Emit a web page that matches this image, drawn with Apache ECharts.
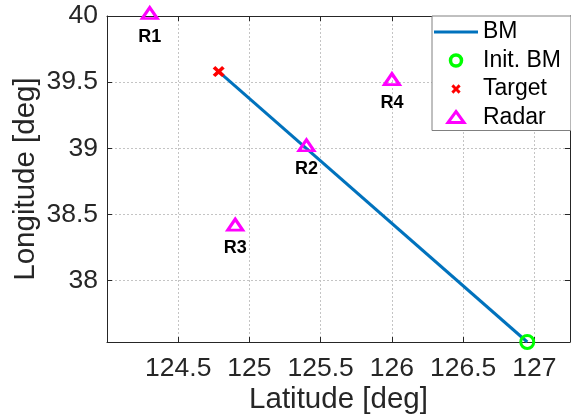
<!DOCTYPE html>
<html>
<head>
<meta charset="utf-8">
<script src="https://cdn.jsdelivr.net/npm/echarts@6/dist/echarts.min.js"></script>
<style>html,body{margin:0;padding:0;background:#fff}#c{width:571px;height:418px}</style>
</head>
<body>
<div id="c"></div>
<script>
const latTicks = [124.5, 125, 125.5, 126, 126.5, 127];
const lonTicks = [38, 38.5, 39, 39.5, 40];
const bmLat = [124.784, 126.95];
const bmLon = [39.58, 37.535];
const initLat = [126.95];
const initLon = [37.535];
const targetLat = [124.784];
const targetLon = [39.58];
const radarNames = ['R1', 'R2', 'R3', 'R4'];
const radarLat = [124.3, 125.4, 124.9, 126.0];
const radarLon = [40.0, 39.0, 38.4, 39.5];
const seriesNames = ['BM', 'Init. BM', 'Target', 'Radar'];

const FONT = "'Liberation Sans', Arial, Helvetica, sans-serif";
const AX = '#262626';
const xPath = 'path://M-1.6,-0.9L-0.9,-1.6L0,-0.7L0.9,-1.6L1.6,-0.9L0.7,0L1.6,0.9L0.9,1.6L0,0.7L-0.9,1.6L-1.6,0.9L-0.7,0Z';
const xPathLegend = 'path://M-3.1,-3.1M3.1,3.1M-1.6,-0.9L-0.9,-1.6L0,-0.7L0.9,-1.6L1.6,-0.9L0.7,0L1.6,0.9L0.9,1.6L0,0.7L-0.9,1.6L-1.6,0.9L-0.7,0Z';
const circLegend = 'path://M-9,-9M9,9M-5.5,0A5.5,5.5 0 1 0 5.5,0A5.5,5.5 0 1 0 -5.5,0Z';
const triLegend = 'path://M-9,-9M9,9M0,-6L8,5L-8,5Z';
const lineLegend = 'path://M-22,-9M22,9M-22,-1.5L22,-1.5L22,1.5L-22,1.5Z';

const zip = (a, b) => a.map((v, i) => [v, b[i]]);

function xAxisCfg(pos, labels) {
  return {
    type: 'value', position: pos, min: 124, max: 127.25,
    axisLine: { show: true, onZero: false, lineStyle: { color: AX, width: 1 } },
    axisTick: { show: true, inside: true, length: 5, customValues: latTicks, lineStyle: { color: AX } },
    axisLabel: { show: labels, customValues: latTicks, fontSize: 26.5, fontFamily: FONT, color: AX, margin: 13 },
    splitLine: { show: labels, lineStyle: { color: '#c4c4c4', type: [2, 2], width: 1 } },
    name: labels ? 'Latitude [deg]' : '', nameLocation: 'middle', nameGap: 43, nameMoveOverlap: false,
    nameTextStyle: { fontSize: 29.5, fontFamily: FONT, color: AX }
  };
}
function yAxisCfg(pos, labels) {
  return {
    type: 'value', position: pos, min: 37.535, max: 40,
    axisLine: { show: true, onZero: false, lineStyle: { color: AX, width: 1 } },
    axisTick: { show: true, inside: true, length: 5, customValues: lonTicks, lineStyle: { color: AX } },
    axisLabel: { show: labels, customValues: lonTicks, fontSize: 26.5, fontFamily: FONT, color: AX, margin: 9 },
    splitLine: { show: labels, lineStyle: { color: '#c4c4c4', type: [2, 2], width: 1 } },
    name: labels ? 'Longitude [deg]' : '', nameLocation: 'middle', nameGap: 66, nameRotate: 90, nameMoveOverlap: false,
    nameTextStyle: { fontSize: 29.5, fontFamily: FONT, color: AX }
  };
}

const chart = echarts.init(document.getElementById('c'), null, { renderer: 'canvas' });
chart.setOption({
  animation: false,
  backgroundColor: '#fff',
  grid: { left: 107, right: 1, top: 16, bottom: 76, containLabel: false, outerBoundsMode: 'none' },
  xAxis: [xAxisCfg('bottom', true), xAxisCfg('top', false)],
  yAxis: [yAxisCfg('left', true), yAxisCfg('right', false)],
  legend: {
    orient: 'vertical', left: 432, top: 16,
    padding: [4, 10, 1, 2], itemGap: 4.5, itemWidth: 44, itemHeight: 18,
    backgroundColor: '#fff', borderColor: '#808080', borderWidth: 1, borderRadius: 0,
    textStyle: { fontSize: 23, fontFamily: FONT, color: '#000', lineHeight: 24 },
    data: [
      { name: seriesNames[0], icon: lineLegend, itemStyle: { color: '#0072BD', borderWidth: 0 } },
      { name: seriesNames[1], icon: circLegend, itemStyle: { color: 'rgba(0,0,0,0)', borderColor: '#00ff00', borderWidth: 3.5 } },
      { name: seriesNames[2], icon: xPathLegend, itemStyle: { color: '#ff0000', borderWidth: 0 } },
      { name: seriesNames[3], icon: triLegend, itemStyle: { color: 'rgba(0,0,0,0)', borderColor: '#ff00ff', borderWidth: 3, borderJoin: 'miter' } }
    ]
  },
  series: [
    {
      name: seriesNames[0], type: 'line', symbol: 'none', data: zip(bmLat, bmLon),
      lineStyle: { color: '#0072BD', width: 3 }, itemStyle: { color: '#0072BD' }, z: 2
    },
    {
      name: seriesNames[1], type: 'scatter', data: zip(initLat, initLon), symbol: 'circle', symbolSize: 13,
      itemStyle: { color: 'rgba(0,0,0,0)', borderColor: '#00ff00', borderWidth: 3, opacity: 1 }, z: 3
    },
    {
      name: seriesNames[2], type: 'scatter', data: zip(targetLat, targetLon), symbol: xPath, symbolSize: [12, 11],
      itemStyle: { color: '#ff0000', opacity: 1 }, z: 3
    },
    {
      name: seriesNames[3], type: 'scatter', symbol: 'triangle', symbolSize: [15, 11], symbolOffset: [0, -3],
      data: radarNames.map((n, i) => ({ name: n, value: [radarLat[i], radarLon[i]] })),
      itemStyle: { color: 'rgba(0,0,0,0)', borderColor: '#ff00ff', borderWidth: 3, borderJoin: 'miter', opacity: 1 },
      label: { show: true, position: 'bottom', distance: 8, formatter: '{b}', fontSize: 18, fontWeight: 'bold', fontFamily: FONT, color: '#000' },
      z: 4
    }
  ]
});
</script>
</body>
</html>
